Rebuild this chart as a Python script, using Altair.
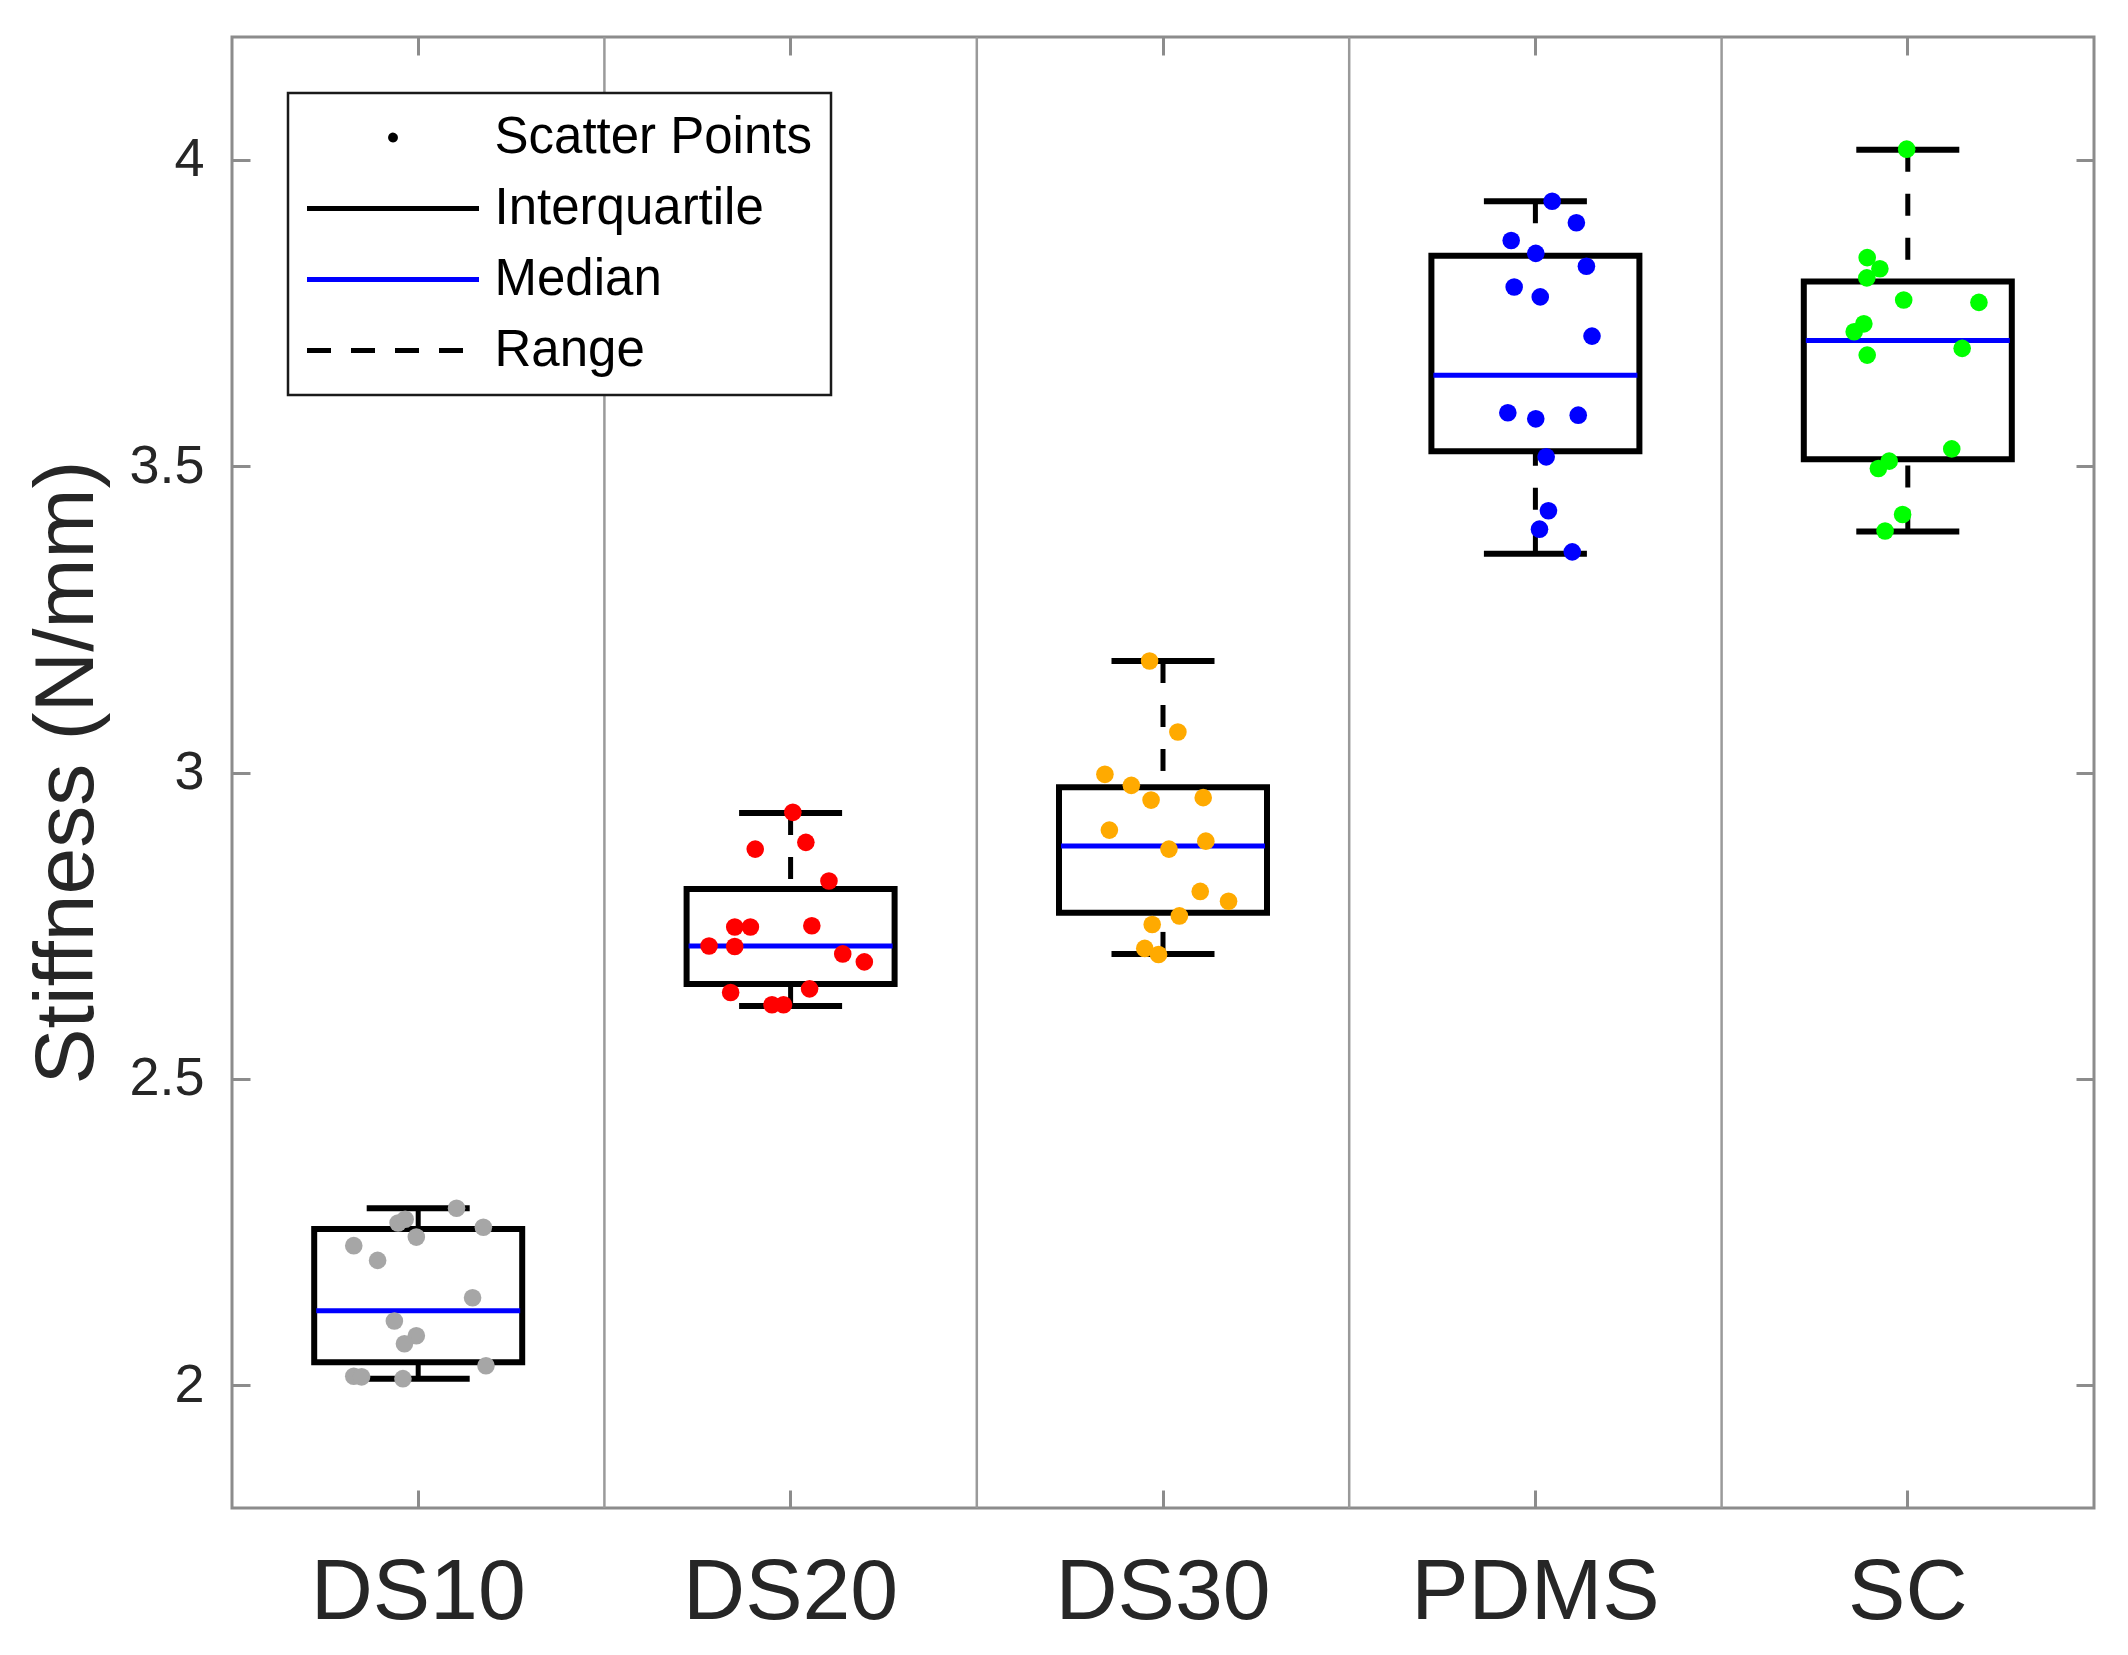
import altair as alt
import pandas as pd

# ---------------- data ----------------
categories = ["DS10", "DS20", "DS30", "PDMS", "SC"]
point_colors = ["#A6A6A6", "#FF0000", "#FFAA00", "#0000FF", "#00FF00"]

q1 = [2.038, 2.655, 2.771, 3.524, 3.511]
median = [2.122, 2.717, 2.880, 3.648, 3.705]
q3 = [2.255, 2.810, 2.976, 3.843, 3.801]
lo = [2.011, 2.619, 2.704, 3.357, 3.393]
hi = [2.289, 2.934, 3.182, 3.932, 4.016]

ds10_vals = [2.289, 2.265, 2.271, 2.258, 2.242, 2.228, 2.204, 2.143, 2.105, 2.081, 2.068, 2.032, 2.015, 2.014, 2.011]
ds10_jit = [0.103, -0.054, -0.035, 0.175, -0.005, -0.173, -0.109, 0.146, -0.064, -0.005, -0.037, 0.182, -0.173, -0.152, -0.041]

ds20_vals = [2.935, 2.875, 2.886, 2.823, 2.748, 2.748, 2.750, 2.717, 2.716, 2.704, 2.691, 2.641, 2.647, 2.621, 2.621]
ds20_jit = [0.006, -0.095, 0.041, 0.103, -0.150, -0.108, 0.057, -0.219, -0.150, 0.140, 0.198, -0.161, 0.051, -0.050, -0.019]

ds30_vals = [3.182, 3.066, 2.997, 2.979, 2.955, 2.959, 2.906, 2.888, 2.875, 2.806, 2.790, 2.766, 2.752, 2.713, 2.703]
ds30_jit = [-0.036, 0.040, -0.156, -0.085, -0.032, 0.108, -0.144, 0.115, 0.016, 0.100, 0.176, 0.044, -0.029, -0.049, -0.012]

pdms_vals = [3.932, 3.897, 3.868, 3.847, 3.826, 3.792, 3.776, 3.712, 3.587, 3.577, 3.583, 3.515, 3.427, 3.397, 3.360]
pdms_jit = [0.045, 0.110, -0.065, 0.001, 0.137, -0.057, 0.013, 0.152, -0.074, 0.001, 0.115, 0.029, 0.035, 0.011, 0.099]

sc_vals = [4.017, 3.840, 3.822, 3.807, 3.771, 3.767, 3.732, 3.719, 3.692, 3.681, 3.528, 3.508, 3.496, 3.421, 3.394]
sc_jit = [-0.003, -0.109, -0.075, -0.110, -0.011, 0.191, -0.118, -0.144, 0.146, -0.109, 0.118, -0.050, -0.079, -0.014, -0.061]

y_ticks = [2, 2.5, 3, 3.5, 4]
legend_items = ["Scatter Points", "Interquartile", "Median", "Range"]

# ---------------- tables ----------------
summary = pd.DataFrame({"cat": categories, "q1": q1, "med": median, "q3": q3, "lo": lo, "hi": hi})

rows = []
for cat, vals, jit in zip(categories,
                          [ds10_vals, ds20_vals, ds30_vals, pdms_vals, sc_vals],
                          [ds10_jit, ds20_jit, ds30_jit, pdms_jit, sc_jit]):
    for v, j in zip(vals, jit):
        rows.append({"cat": cat, "val": v, "jit": j})
points = pd.DataFrame(rows)

seps = pd.DataFrame({"cat": categories[1:]})
legend_df = pd.DataFrame({"item": legend_items, "y": [0.0] * len(legend_items)})

# ---------------- styles ----------------
FONT = "Liberation Sans"
GRAY = "#8c8c8c"
TXT = "#262626"

xscale = alt.Scale(domain=categories, paddingInner=0, paddingOuter=0)
yscale = alt.Scale(domain=[1.8, 4.2], nice=False, zero=False)

x_bottom = alt.Axis(orient="bottom", title=None, labelFont=FONT, labelFontSize=86,
                    labelColor=TXT, labelAngle=0, labelPadding=60, labelLimit=0,
                    ticks=True, tickSize={"expr": "-18"}, tickColor=GRAY, tickWidth=3,
                    domain=False, grid=False)
x_top = alt.Axis(orient="top", title=None, labels=False,
                 ticks=True, tickSize={"expr": "-18"}, tickColor=GRAY, tickWidth=3,
                 domain=False, grid=False)
y_left = alt.Axis(orient="left", title="Stiffness (N/mm)", values=y_ticks, format="~g",
                  labelFont=FONT, labelFontSize=54, labelColor=TXT, labelPadding=46,
                  ticks=True, tickSize={"expr": "-18"}, tickColor=GRAY, tickWidth=3,
                  domain=False, grid=False,
                  titleFont=FONT, titleFontSize=84, titleFontWeight="normal", titleColor=TXT,
                  titleAngle=270, titleBaseline="alphabetic", titleAlign="center",
                  titleX=-140, titleY=735)
y_right = alt.Axis(orient="right", title=None, values=y_ticks, labels=False,
                   ticks=True, tickSize={"expr": "-18"}, tickColor=GRAY, tickWidth=3,
                   domain=False, grid=False)

X = lambda axis=None: alt.X("cat:N", scale=xscale, axis=axis, sort=categories)

# ---------------- layers ----------------
sep_layer = alt.Chart(seps).mark_rule(color="#9a9a9a", strokeWidth=2.5).encode(
    x=alt.X("cat:N", scale=xscale, axis=None, sort=categories, bandPosition=0)
)

box_layer = alt.Chart(summary).mark_bar(
    fill="white", stroke="black", strokeWidth=6, width=208
).encode(
    x=X(x_bottom),
    y=alt.Y("q1:Q", scale=yscale, axis=y_left),
    y2="q3:Q",
)

whisk_hi = alt.Chart(summary).mark_rule(color="black", strokeWidth=5, strokeDash=[22, 22]).encode(
    x=X(), y=alt.Y("hi:Q", scale=yscale, axis=None), y2="q3:Q"
)
whisk_lo = alt.Chart(summary).mark_rule(color="black", strokeWidth=5, strokeDash=[22, 22]).encode(
    x=X(), y=alt.Y("lo:Q", scale=yscale, axis=None), y2="q1:Q"
)

caps = alt.Chart(summary).transform_fold(["lo", "hi"], as_=["which", "capval"]).mark_tick(
    color="black", thickness=6, size=103, orient="horizontal", opacity=1
).encode(x=X(), y=alt.Y("capval:Q", scale=yscale, axis=None))

med_layer = alt.Chart(summary).mark_tick(
    color="#0000FF", thickness=5, size=204, orient="horizontal", opacity=1
).encode(x=X(), y=alt.Y("med:Q", scale=yscale, axis=None))

pt_layer = alt.Chart(points).mark_circle(size=310, opacity=1).encode(
    x=X(x_top),
    xOffset=alt.XOffset("jit:Q", scale=alt.Scale(domain=[-0.5, 0.5], nice=False, zero=False)),
    y=alt.Y("val:Q", scale=yscale, axis=y_right),
    fill=alt.Fill("cat:N", scale=alt.Scale(domain=categories, range=point_colors), legend=None),
)

leg = alt.Legend(title=None, orient="none", legendX=56, legendY=56, direction="vertical",
                 labelFont=FONT, labelFontSize=51, labelColor="#000000",
                 labelOffset=76, symbolOffset=60.5,
                 labelLimit=0, padding=19, rowPadding=19,
                 strokeColor="#1a1a1a", fillColor="white",
                 symbolSize=1600, symbolStrokeWidth=5)

# custom symbol paths (scaled by sqrt(symbolSize)/2 = 20)
dot_path = "M-0.12,0A0.12,0.12 0 1,1 0.12,0A0.12,0.12 0 1,1 -0.12,0Z"
line_path = "M-4.3,0L4.3,0"

legend_layer = alt.Chart(legend_df).mark_point(filled=False, clip=True, opacity=1).encode(
    y=alt.Y("y:Q", scale=yscale, axis=None),
    shape=alt.Shape("item:N", sort=legend_items,
                    scale=alt.Scale(domain=legend_items, range=[dot_path, line_path, line_path, line_path]),
                    legend=leg),
    stroke=alt.Stroke("item:N", sort=legend_items,
                      scale=alt.Scale(domain=legend_items, range=["#000000", "#000000", "#0000FF", "#000000"]),
                      legend=leg),
    strokeDash=alt.StrokeDash("item:N", sort=legend_items,
                              scale=alt.Scale(domain=legend_items, range=[[1, 0], [1, 0], [1, 0], [24, 20]]),
                              legend=leg),
)

chart = alt.layer(
    sep_layer, box_layer, whisk_hi, whisk_lo, caps, med_layer, pt_layer, legend_layer
).resolve_axis(
    x="independent", y="independent"
).resolve_scale(
    xOffset="independent"
).properties(
    width=1862, height=1471,
    autosize=alt.AutoSizeParams(type="none"),
    padding={"left": 224, "top": 29, "right": 26, "bottom": 130},
    background="white",
).configure_view(
    stroke=GRAY, strokeWidth=3
).configure_legend(
    strokeWidth=2.5
)

chart.save("out.html", embed_options={"renderer": "svg", "actions": False})
